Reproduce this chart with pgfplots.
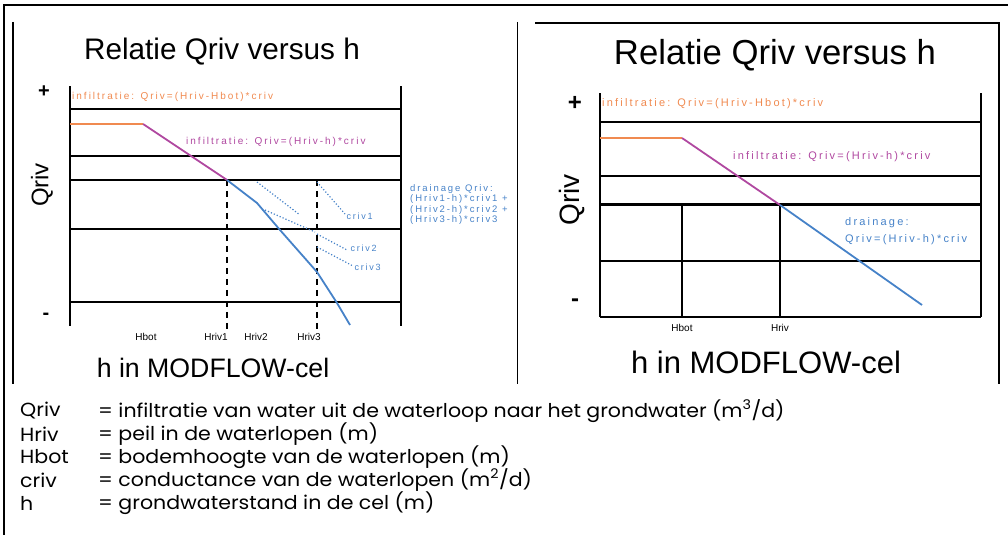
\documentclass[border=0pt]{standalone}
\usepackage{pgfplots}
\pgfplotsset{compat=1.18}
\usepackage{fontspec}
\setmainfont{Liberation Sans}
\newfontfamily\gothic[FakeStretch=1.08]{Poppins}
\newfontfamily\spaced[LetterSpace=20]{Liberation Sans}
\definecolor{qorange}{RGB}{240,138,80}
\definecolor{qpurple}{RGB}{176,72,160}
\definecolor{qblue}{RGB}{70,130,200}
\newcommand{\fs}[1]{\fontsize{#1bp}{#1bp}\selectfont}
\begin{document}
\begin{tikzpicture}
\path[use as bounding box] (0bp,0bp) rectangle (1008bp,535bp);
\begin{scope}[x=1bp, y=-1bp, shift={(0bp,535bp)}]
% frames
\draw[line width=2bp] (3,5) -- (1010,5);
\draw[line width=2bp] (4,5) -- (4,537);
\draw[line width=1.5bp] (13,22) -- (13,384);
\draw[line width=1.5bp] (517.5,22) -- (517.5,384);
\draw[line width=1.5bp] (535,23) -- (999,23) -- (999,384);
% titles
\node[font=\fs{29.7}] at (222,52) {Relatie Qriv versus h};
\node[font=\fs{34.7}] at (775,55) {Relatie Qriv versus h};
% explanation
\begin{scope}[every node/.style={anchor=west, inner sep=0bp, font=\gothic\fs{19}}]
\node at (20,411) {Qriv};
\node at (98,411) {= infiltratie van water uit de waterloop naar het grondwater (m\textsuperscript{3}/d)};
\node at (20,434) {Hriv};
\node at (98,434) {= peil in de waterlopen (m)};
\node at (20,457) {Hbot};
\node at (98,457) {= bodemhoogte van de waterlopen (m)};
\node at (20,480) {criv};
\node at (98,480) {= conductance van de waterlopen (m\textsuperscript{2}/d)};
\node at (20,503) {h};
\node at (98,503) {= grondwaterstand in de cel (m)};
\end{scope}
\end{scope}

% ---------------- left panel
\begin{axis}[at={(70bp,209bp)}, anchor=south west, scale only axis,
  width=331bp, height=240bp, xmin=0, xmax=331, ymin=0, ymax=240,
  hide axis, clip=false]
\addplot[black, line width=1.5bp] coordinates {(0,0) (0,240)};
\addplot[black, line width=1.5bp] coordinates {(331,0) (331,240)};
\addplot[black, line width=1.5bp] coordinates {(0,217) (331,217)};
\addplot[black, line width=1.5bp] coordinates {(0,170) (331,170)};
\addplot[black, line width=1.5bp] coordinates {(0,146) (331,146)};
\addplot[black, line width=1.5bp] coordinates {(0,97) (331,97)};
\addplot[black, line width=1.5bp] coordinates {(0,24) (331,24)};
\addplot[black, line width=1.5bp, dash pattern=on 6bp off 5bp] coordinates {(157,146) (157,-4)};
\addplot[black, line width=1.5bp, dash pattern=on 6bp off 5bp] coordinates {(247,146) (247,-4)};
\addplot[qorange, line width=1.8bp] coordinates {(0,202) (73,202)};
\addplot[qpurple, line width=1.8bp] coordinates {(73,202) (157,146)};
\addplot[qblue, line width=1.8bp] coordinates {(157,146) (187,123) (210,96) (247,54) (267,23) (280,1)};
\addplot[qblue, dotted, line width=1.2bp] coordinates {(187,144) (230,111)};
\addplot[qblue, dotted, line width=1.2bp] coordinates {(195,116) (245,94)};
\addplot[qblue, dotted, line width=1.2bp] coordinates {(247,144) (275,112)};
\addplot[qblue, dotted, line width=1.2bp] coordinates {(247,92) (277,76)};
\addplot[qblue, dotted, line width=1.2bp] coordinates {(247,79) (283,60)};
\node[qblue, font=\spaced\fs{9}, anchor=west] at (273,110) {criv1};
\node[qblue, font=\spaced\fs{9}, anchor=west] at (277,78) {criv2};
\node[qblue, font=\spaced\fs{9}, anchor=west] at (281,59) {criv3};
\node[qorange, font=\spaced\fs{10}, anchor=west, inner sep=1bp] at (1,229) {infiltratie: Qriv=(Hriv-Hbot)*criv};
\node[qpurple, font=\spaced\fs{10}, anchor=west, inner sep=1bp] at (115,184) {infiltratie: Qriv=(Hriv-h)*criv};
\node[qblue, font=\spaced\fs{9.5}, anchor=north west, align=left, inner sep=0bp] at (340,142)
  {drainage Qriv:\\[1bp] (Hriv1-h)*criv1 +\\[1bp] (Hriv2-h)*criv2 +\\[1bp] (Hriv3-h)*criv3};
\node[font=\fs{10}] at (76,-11) {Hbot};
\node[font=\fs{10}] at (146,-11) {Hriv1};
\node[font=\fs{10}] at (186,-11) {Hriv2};
\node[font=\fs{10}] at (239,-11) {Hriv3};
\node[font=\bfseries\fs{20}] at (-26,234) {+};
\node[font=\bfseries\fs{20}] at (-24,10) {-};
\node[font=\fs{24}, rotate=90] at (-28,141) {Qriv};
\node[font=\fs{26.7}] at (143,-42) {h in MODFLOW-cel};
\end{axis}

% ---------------- right panel
\begin{axis}[at={(600bp,218bp)}, anchor=south west, scale only axis,
  width=381bp, height=224bp, xmin=0, xmax=381, ymin=0, ymax=224,
  hide axis, clip=false]
\addplot[black, line width=1.5bp] coordinates {(0,0) (0,224)};
\addplot[black, line width=1.5bp] coordinates {(381,0) (381,224)};
\addplot[black, line width=1.5bp] coordinates {(0,195) (381,195)};
\addplot[black, line width=1.5bp] coordinates {(0,141) (381,141)};
\addplot[black, line width=3bp] coordinates {(0,112) (381,112)};
\addplot[black, line width=1.5bp] coordinates {(0,56) (381,56)};
\addplot[black, line width=1.5bp] coordinates {(0,0) (381,0)};
\addplot[black, line width=1.5bp] coordinates {(82,0) (82,112)};
\addplot[black, line width=1.5bp] coordinates {(180,0) (180,112)};
\addplot[qorange, line width=1.8bp] coordinates {(0,179) (82,179)};
\addplot[qpurple, line width=1.8bp] coordinates {(82,179) (180,112)};
\addplot[qblue, line width=1.8bp] coordinates {(180,112) (322,12)};
\node[qorange, font=\spaced\fs{11}, anchor=west, inner sep=1bp] at (1,213) {infiltratie: Qriv=(Hriv-Hbot)*criv};
\node[qpurple, font=\spaced\fs{11}, anchor=west, inner sep=1bp] at (132,160) {infiltratie: Qriv=(Hriv-h)*criv};
\node[qblue, font=\spaced\fs{11}, anchor=west, inner sep=1bp] at (244,94) {drainage:};
\node[qblue, font=\spaced\fs{11}, anchor=west, inner sep=1bp] at (244,77) {Qriv=(Hriv-h)*criv};
\node[font=\fs{10}] at (82,-11) {Hbot};
\node[font=\fs{10}] at (180,-11) {Hriv};
\node[font=\bfseries\fs{24}] at (-25,214) {+};
\node[font=\bfseries\fs{24}] at (-25,14) {-};
\node[font=\fs{28}, rotate=90] at (-28,117) {Qriv};
\node[font=\fs{31}] at (166,-45) {h in MODFLOW-cel};
\end{axis}
\end{tikzpicture}
\end{document}
